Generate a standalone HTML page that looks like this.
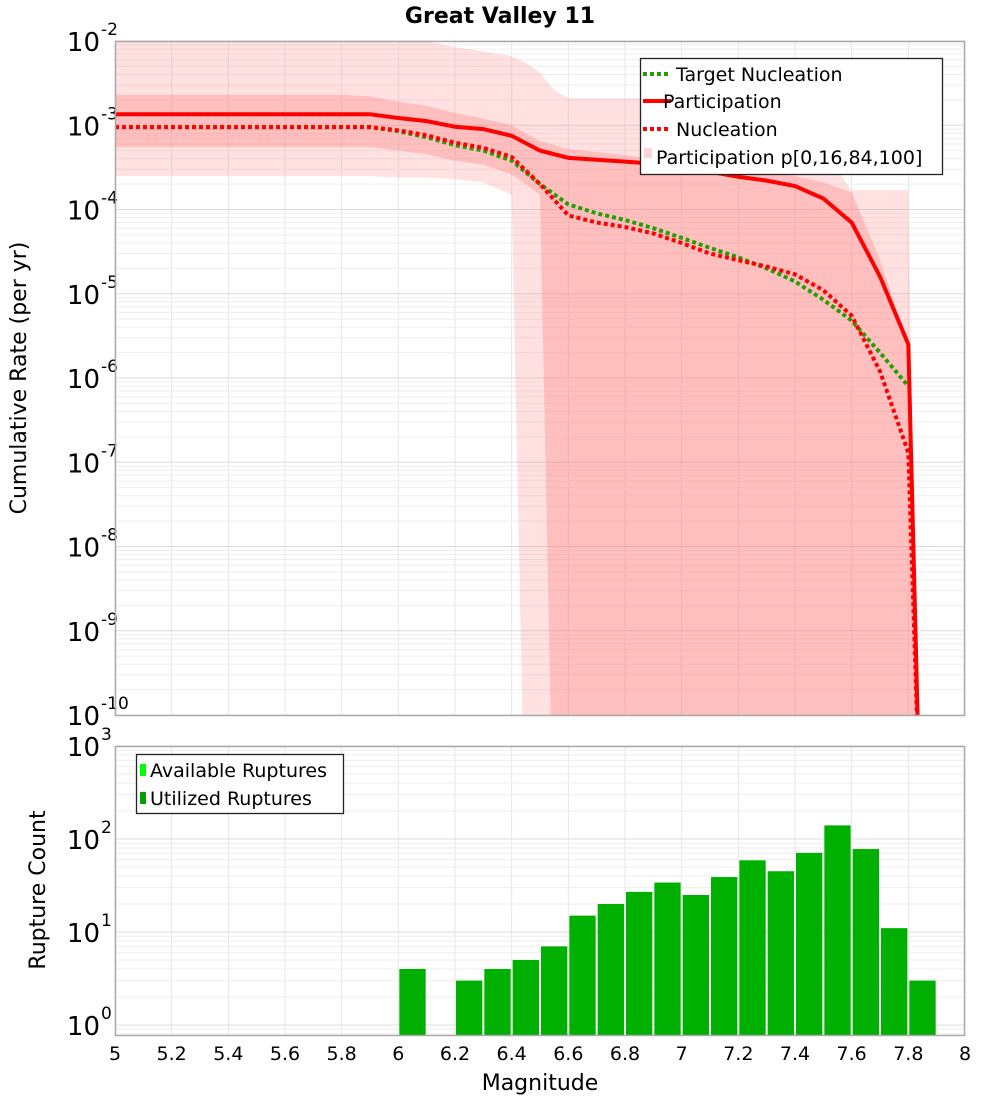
<!DOCTYPE html>
<html><head><meta charset="utf-8"><style>
body{margin:0;background:#fff;font-family:"Liberation Sans","DejaVu Sans",sans-serif}
svg text{font-family:"DejaVu Sans","Liberation Sans",sans-serif}
</style></head><body>
<svg id="chart" width="1000" height="1100" xmlns="http://www.w3.org/2000/svg">
<defs>
<clipPath id="c1"><rect x="115" y="41" width="850" height="674"/></clipPath>
<clipPath id="c2"><rect x="115" y="746" width="850" height="289"/></clipPath>
</defs>
<text x="500" y="23" font-size="22" font-weight="bold" text-anchor="middle">Great Valley 11</text>
<g id="topPlot"></g>
<g id="botPlot"></g>
<text transform="translate(26,378) rotate(-90)" font-size="22" text-anchor="middle">Cumulative Rate (per yr)</text>
<text transform="translate(45,890) rotate(-90)" font-size="22" text-anchor="middle">Rupture Count</text>
<text x="540" y="1090" font-size="22" text-anchor="middle">Magnitude</text>
</svg>
<script>
const mags = [5.0,5.1,5.2,5.3,5.4,5.5,5.6,5.7,5.8,5.9,6.0,6.1,6.2,6.3,6.4,6.5,6.6,6.7,6.8,6.9,7.0,7.1,7.2,7.3,7.4,7.5,7.6,7.7,7.8,7.84];
const participation = [1.35e-3,1.35e-3,1.35e-3,1.35e-3,1.35e-3,1.35e-3,1.35e-3,1.35e-3,1.35e-3,1.35e-3,1.22e-3,1.12e-3,9.6e-4,9e-4,7.5e-4,5e-4,4.1e-4,3.9e-4,3.7e-4,3.5e-4,3.2e-4,2.8e-4,2.45e-4,2.2e-4,1.9e-4,1.35e-4,7e-5,1.6e-5,2.5e-6,1e-11];
const nucleation = [9.5e-4,9.5e-4,9.5e-4,9.5e-4,9.5e-4,9.5e-4,9.5e-4,9.5e-4,9.5e-4,9.5e-4,8.7e-4,7.6e-4,6.2e-4,5.4e-4,4.2e-4,2e-4,8.5e-5,7e-5,6.2e-5,5.2e-5,4e-5,3e-5,2.5e-5,2.1e-5,1.7e-5,1.1e-5,5.5e-6,1.2e-6,1.3e-7,1e-11];
const targetMags = [5.0,5.1,5.2,5.3,5.4,5.5,5.6,5.7,5.8,5.9,6.0,6.1,6.2,6.3,6.4,6.5,6.6,6.7,6.8,6.9,7.0,7.1,7.2,7.3,7.4,7.5,7.6,7.7,7.8];
const targetNucleation = [9.5e-4,9.5e-4,9.5e-4,9.5e-4,9.5e-4,9.5e-4,9.5e-4,9.5e-4,9.5e-4,9.5e-4,8.5e-4,7.2e-4,5.8e-4,5e-4,3.8e-4,2e-4,1.15e-4,9e-5,7.5e-5,6e-5,4.6e-5,3.5e-5,2.7e-5,2e-5,1.4e-5,8.5e-6,4.8e-6,2e-6,8e-7];
const bandMags = [5.0,5.1,5.2,5.3,5.4,5.5,5.6,5.7,5.8,5.9,6.0,6.1,6.2,6.3,6.4,6.45,6.5,6.55,6.6,6.7,6.8,6.9,7.0,7.1,7.2,7.3,7.4,7.5,7.6,7.7,7.8,7.84];
const p0 = [2.5e-4,2.5e-4,2.5e-4,2.5e-4,2.5e-4,2.5e-4,2.5e-4,2.5e-4,2.5e-4,2.5e-4,2.4e-4,2.4e-4,2.3e-4,2.1e-4,1.5e-4,1e-12,1e-12,1e-12,1e-12,1e-12,1e-12,1e-12,1e-12,1e-12,1e-12,1e-12,1e-12,1e-12,1e-12,1e-12,1e-12,1e-12];
const p16 = [5.5e-4,5.5e-4,5.5e-4,5.5e-4,5.5e-4,5.5e-4,5.5e-4,5.5e-4,5.5e-4,5.5e-4,5e-4,4.5e-4,3.8e-4,3.4e-4,2.6e-4,2e-4,1.5e-4,1e-12,1e-12,1e-12,1e-12,1e-12,1e-12,1e-12,1e-12,1e-12,1e-12,1e-12,1e-12,1e-12,1e-12,1e-12];
const p84 = [2.3e-3,2.3e-3,2.3e-3,2.3e-3,2.3e-3,2.3e-3,2.3e-3,2.3e-3,2.3e-3,2.2e-3,1.9e-3,1.7e-3,1.4e-3,1.2e-3,1e-3,8e-4,6.5e-4,5.8e-4,5.2e-4,4.8e-4,4.4e-4,4e-4,3.6e-4,3.2e-4,2.9e-4,2.7e-4,2.5e-4,2.1e-4,1.6e-4,2.5e-5,2.5e-6,1e-11];
const p100 = [2e-2,2e-2,2e-2,2e-2,2e-2,2e-2,2e-2,2e-2,2e-2,1.5e-2,1.2e-2,1e-2,8.5e-3,7.5e-3,6.6e-3,5.5e-3,4.2e-3,2.6e-3,2.1e-3,2.1e-3,2.1e-3,2.1e-3,2e-3,1.9e-3,1.7e-3,1.5e-3,1e-3,5e-4,1.7e-4,1.7e-4,1.7e-4,1e-12];
const binMags = [6.05,6.25,6.35,6.45,6.55,6.65,6.75,6.85,6.95,7.05,7.15,7.25,7.35,7.45,7.55,7.65,7.75,7.85];
const binCounts = [4,3,4,5,7,15,20,27,34,25,39,59,45,71,140,78,11,3];
const xTicks = ["5","5.2","5.4","5.6","5.8","6","6.2","6.4","6.6","6.8","7","7.2","7.4","7.6","7.8","8"];
const topExps = [-2,-3,-4,-5,-6,-7,-8,-9,-10];
const botExps = [3,2,1,0];

const NS="http://www.w3.org/2000/svg";
const X=m=>115+(m-5)*850/3;
const YT=v=>41+(-2-Math.log10(v))*84.25;
const YB=v=>1025-93*Math.log10(v);
function mk(tag,attrs,parent){const e=document.createElementNS(NS,tag);for(const k in attrs)e.setAttribute(k,attrs[k]);parent.appendChild(e);return e;}
const gTop=document.getElementById('topPlot'), gBot=document.getElementById('botPlot');

function grid(g,y0,y1,yf,exps){
  for(let i=0;i<=15;i++){const x=X(5+i*0.2);const l=mk('line',{x1:x,x2:x,y1:y0,y2:y1,stroke:'#e6e6e6','stroke-width':1},g);
    
    }
  const lo=Math.min(...exps),hi=Math.max(...exps);
  for(let e=lo-1;e<=hi;e++)for(let k=1;k<10;k++){const y=yf(k*Math.pow(10,e));if(y<y0||y>y1)continue;
    const l=mk('line',{x1:115,x2:965,y1:y,y2:y,stroke:k==1?'#dcdcdc':'#eeeeee','stroke-width':1},g);
    
    }
}
grid(gTop,41,715,YT,topExps);
grid(gBot,746,1035,YB,botExps);

function band(lo,hi,color,name){
  let d='';bandMags.forEach((m,i)=>{d+=(i?'L':'M')+X(m)+','+YT(hi[i]);});
  for(let i=bandMags.length-1;i>=0;i--)d+='L'+X(bandMags[i])+','+YT(lo[i]);
  const p=mk('path',{d:d+'Z',fill:color,'clip-path':'url(#c1)'},gTop);
  
  
}
band(p0,p100,'rgba(255,120,120,0.22)','band-p0-p100');
band(p16,p84,'rgba(255,120,120,0.32)','band-p16-p84');

function line(ms,vs,color,dash,name){
  const pts=ms.map((m,i)=>X(m)+','+YT(vs[i])).join(' ');
  const a={points:pts,fill:'none',stroke:color,'stroke-width':4,'clip-path':'url(#c1)'};
  if(dash)a['stroke-dasharray']='4,3';
  const p=mk('polyline',a,gTop);
  
  
}
line(targetMags,targetNucleation,'#22a000',true,'target-nucleation-line');
line(mags,nucleation,'#ff0000',true,'nucleation-line');
line(mags,participation,'#ff0000',false,'participation-line');

binMags.forEach((m,i)=>{
  const x0=X(m-0.05)+1,x1=X(m+0.05)-1,y=YB(binCounts[i]);
  const r=mk('rect',{x:x0,y:y,width:x1-x0,height:1035-y,fill:'#00b000','clip-path':'url(#c2)'},gBot);
  
  
});

const svgRoot=document.getElementById('chart');
[[41,715],[746,1035]].forEach(([a,b])=>{const r=mk('rect',{x:115.5,y:a+0.5,width:849,height:b-a,fill:'none',stroke:'#aaaaaa','stroke-width':1.5},svgRoot);
  
  });

function ylabels(g,exps,yf,name){
  exps.forEach(e=>{const y=yf(Math.pow(10,e));
    const t=mk('text',{x:100,y:y+10,'font-size':26,'text-anchor':'end'},g);t.textContent='10';
    
    
    const s=mk('text',{x:101,y:y-6,'font-size':17},g);s.textContent=String(e);
    
    });
}
ylabels(gTop,topExps,YT,'y-tick-label-rate');
ylabels(gBot,botExps,YB,'y-tick-label-count');
xTicks.forEach(t=>{const e=mk('text',{x:X(parseFloat(t)),y:1060,'font-size':19,'text-anchor':'middle'},gBot);e.textContent=t;
  
  });

const lg=mk('g',{},svgRoot);


mk('rect',{x:640.5,y:58.5,width:302,height:116,fill:'#fff',stroke:'#222','stroke-width':1.3},lg);
const items=[['#22a000',true,'Target Nucleation',74],['#ff0000',false,'Participation',101],['#ff0000',true,'Nucleation',129]];
items.forEach(([c,d,txt,y])=>{const a={x1:643,x2:671,y1:y,y2:y,stroke:c,'stroke-width':4};if(d)a['stroke-dasharray']='4,3';
  const l=mk('line',a,lg);
  
  
  const t=mk('text',{x:d?676:663,y:y+7,'font-size':19},lg);t.textContent=txt;
  
  });
mk('rect',{x:644,y:148,width:8,height:10,fill:'rgba(255,120,120,0.3)'},lg);
const t4=mk('text',{x:656,y:164,'font-size':19},lg);t4.textContent='Participation p[0,16,84,100]';



const lg2=mk('g',{},svgRoot);


mk('rect',{x:136.5,y:754.5,width:207,height:59,fill:'#fff',stroke:'#222','stroke-width':1.3},lg2);
[['#00ff00','Available Ruptures',770],['#00a000','Utilized Ruptures',798]].forEach(([c,txt,y])=>{
  mk('rect',{x:140,y:y-6,width:6,height:12,fill:c},lg2);
  const t=mk('text',{x:150,y:y+7,'font-size':19},lg2);t.textContent=txt;
  
  });
</script>
</body></html>
